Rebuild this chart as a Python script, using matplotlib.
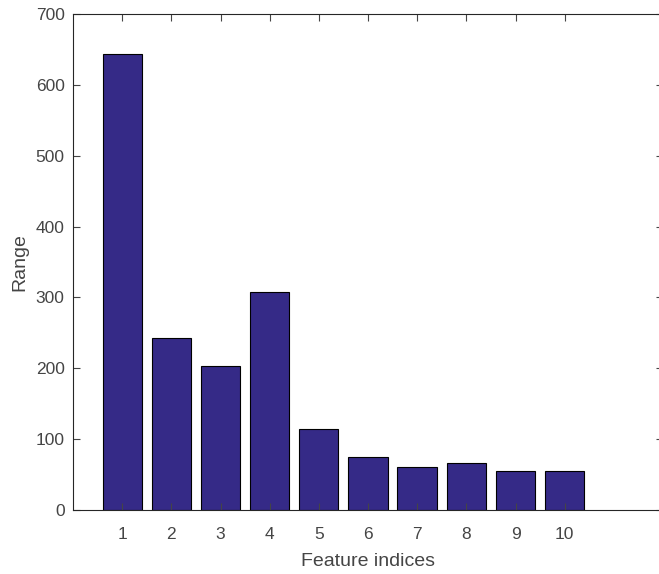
import matplotlib.pyplot as plt
import numpy as np

plt.rcParams['font.family'] = ['Liberation Sans', 'DejaVu Sans']

indices = [1, 2, 3, 4, 5, 6, 7, 8, 9, 10]
rango = [643, 243, 203, 307, 114, 75, 61, 67, 55, 55]

color_barra = '#352a87'
color_texto = '#454545'

fig = plt.figure(figsize=(6.59, 5.74), dpi=100)
ax = fig.add_axes([73/659, 64/574, 590/659, 496/574])

ax.bar(indices, rango, 0.8, color=color_barra, edgecolor='black', linewidth=0.8)

ax.set_xlim(0, 12)
ax.set_ylim(0, 700)
ax.set_xticks(indices)
ax.set_yticks(np.arange(0, 701, 100))

ax.tick_params(direction='in', top=True, right=True, length=5, width=0.8,
               labelsize=12.5, colors=color_texto)
ax.tick_params(axis='x', pad=12)
ax.tick_params(axis='y', pad=6)
for lado in ax.spines.values():
    lado.set_color('#262626')
    lado.set_linewidth(0.8)

ax.set_xlabel('Feature indices', fontsize=14, color=color_texto, labelpad=8)
ax.set_ylabel('Range', fontsize=14, color=color_texto, labelpad=5)

fig.savefig('out.png', dpi=100)
